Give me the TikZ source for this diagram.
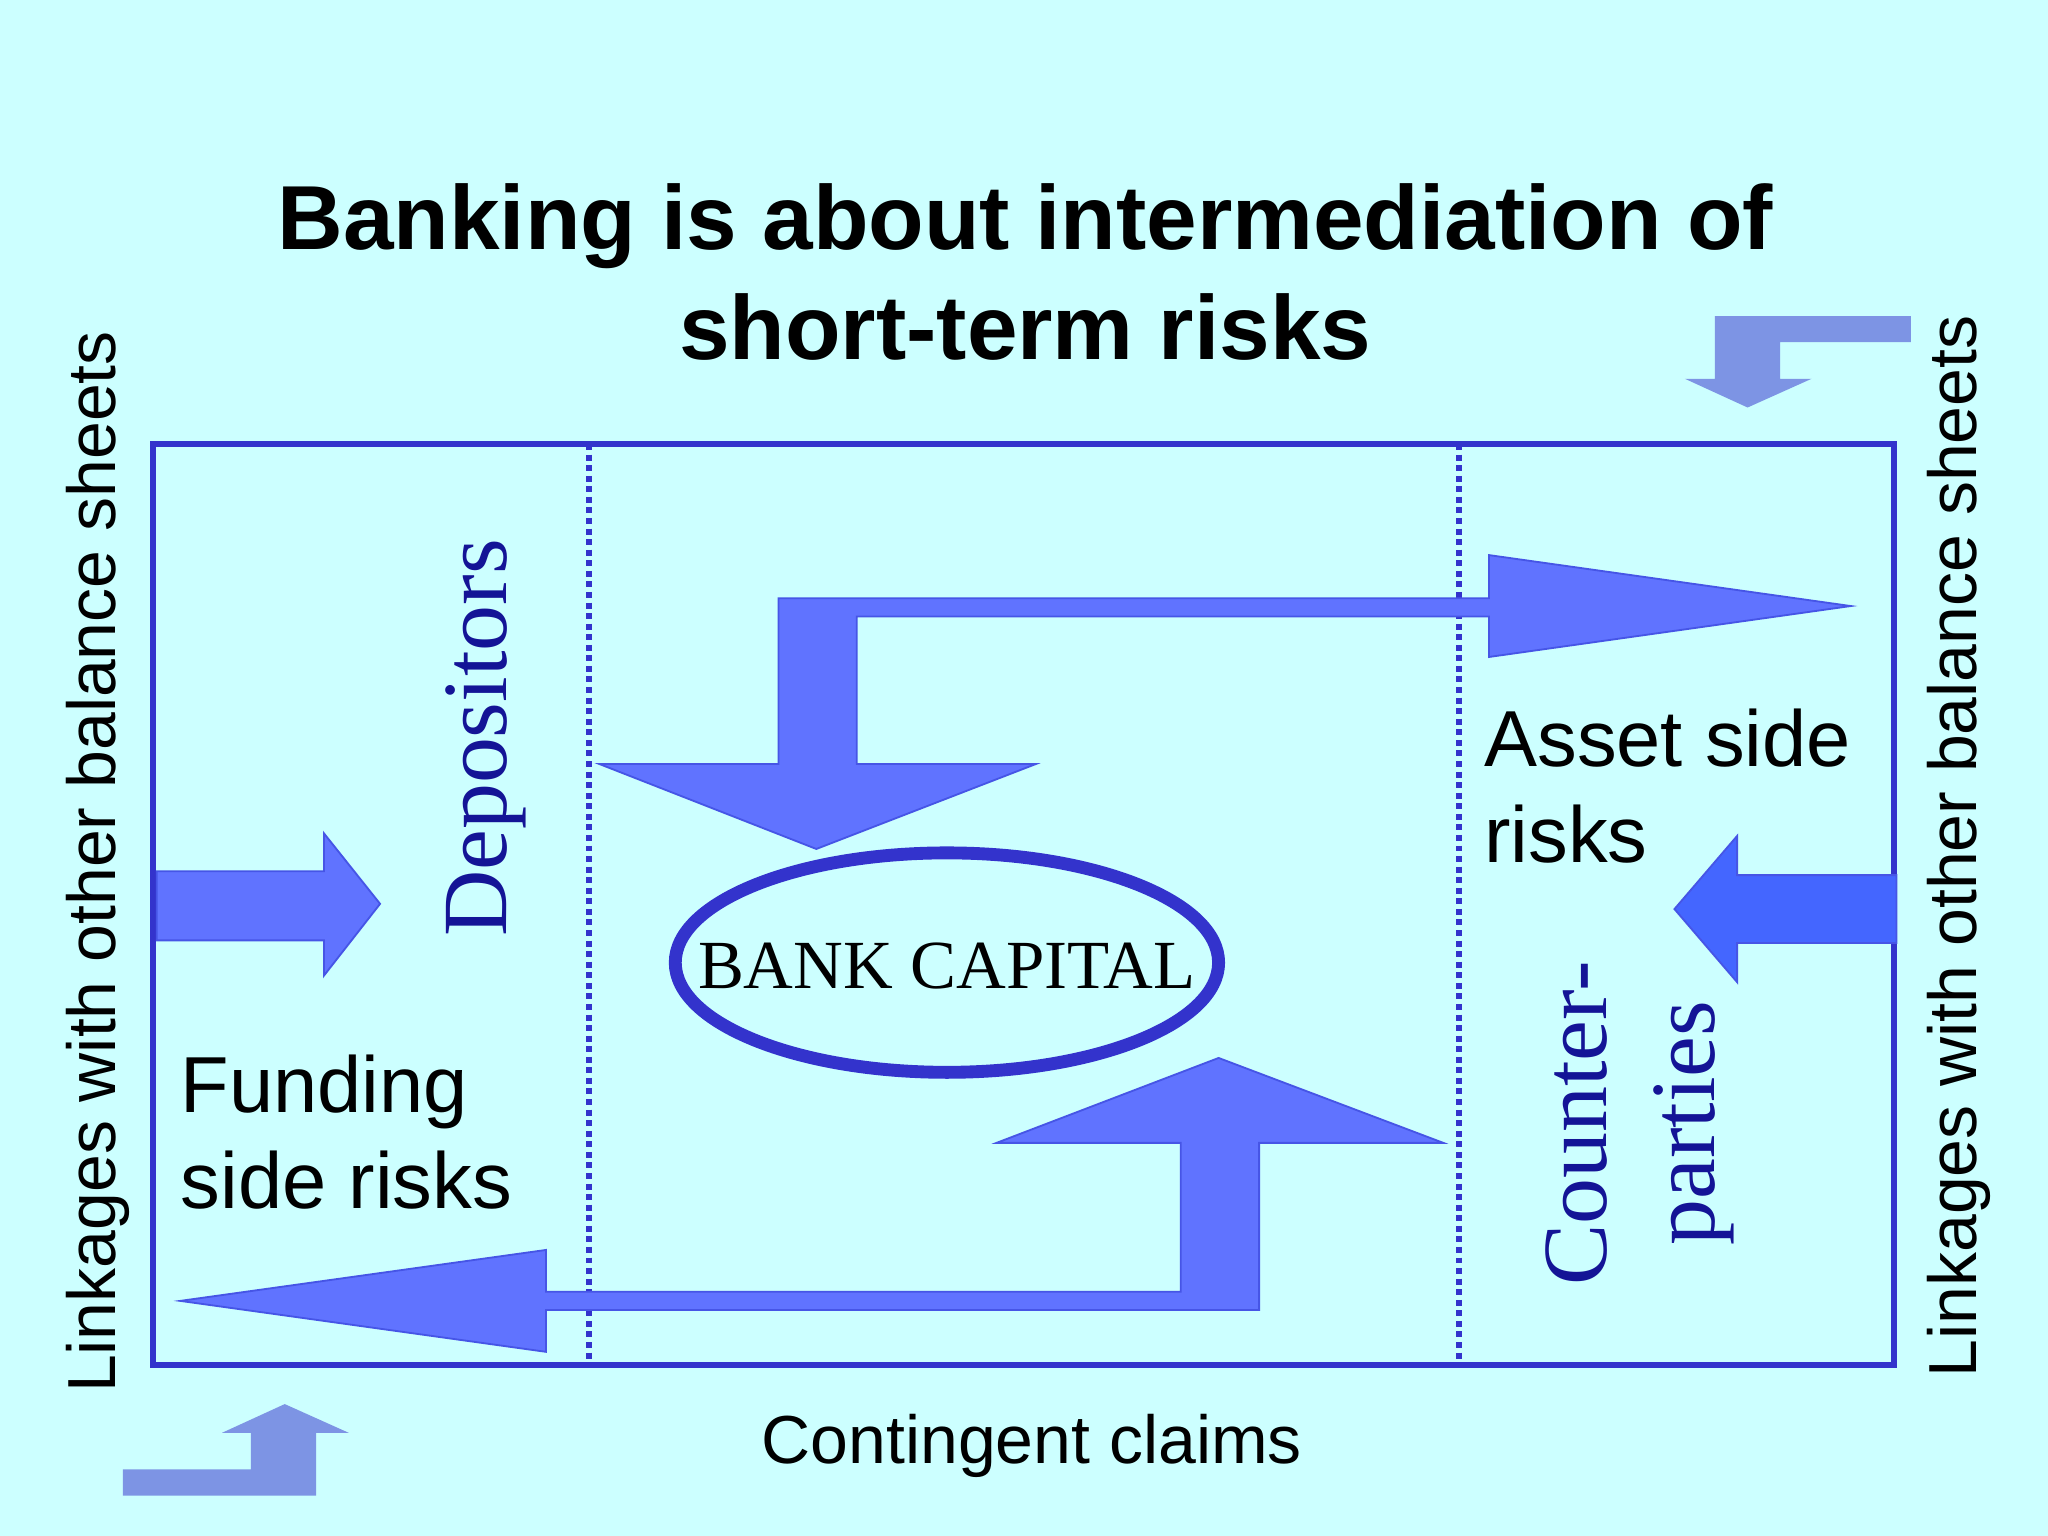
\documentclass[tikz,border=0pt]{standalone}
\usepackage{fontspec}
\setmainfont{Liberation Sans}
\newfontfamily\serifbody{Liberation Serif}
\definecolor{bgc}{RGB}{204,255,255}
\definecolor{framec}{RGB}{51,51,204}
\definecolor{arrfill}{RGB}{96,115,255}
\definecolor{arrdraw}{RGB}{70,85,230}
\definecolor{arrbright}{RGB}{68,102,255}
\definecolor{lightarr}{RGB}{125,148,228}
\definecolor{navyc}{RGB}{20,20,150}
\begin{document}
\begin{tikzpicture}[x=0.01cm,y=-0.01cm,
  bigarrow/.style={fill=arrfill, draw=arrdraw, line width=0.4pt},
  lightarrow/.style={fill=lightarr},
  sidetxt/.style={font=\fontsize{14.8}{17}\selectfont, anchor=center},
  risk/.style={font=\fontsize{17.3}{21}\selectfont, align=left, anchor=north west},
  navy/.style={text=navyc, font=\serifbody\fontsize{20}{22}\selectfont}]
\fill[bgc] (0,0) rectangle (1568,1176);
\useasboundingbox (0,0) rectangle (1568,1176);
\node[font=\bfseries\fontsize{19.8}{24}\selectfont, align=center] (title) at (785,208) {Banking is about intermediation of\\short-term risks};
\draw[draw=framec, line width=1.4pt] (117,340) rectangle (1450,1045);
\draw[densely dotted, line width=1.3pt, draw=framec] (451,340) -- (451,1045);
\draw[densely dotted, line width=1.3pt, draw=framec] (1117,340) -- (1117,1045);
\draw[bigarrow] (596,458)--(1140,458)--(1140,425)--(1417,464)--(1140,503)--(1140,472)--(656,472)--(656,585)--(793,585)--(625,650)--(459,585)--(596,585)--cycle;
\draw[bigarrow] (964,1003)--(418,1003)--(418,1035)--(138,996)--(418,957)--(418,989)--(904,989)--(904,875)--(763,875)--(933,810)--(1105,875)--(964,875)--cycle;
\draw[bigarrow] (120,667)--(248,667)--(248,638)--(291,692)--(248,747)--(248,720)--(120,720)--cycle;
\draw[bigarrow, fill=arrbright] (1452,670)--(1330,670)--(1330,640)--(1282,696)--(1330,752)--(1330,722)--(1452,722)--cycle;
\fill[lightarrow] (1463,242)--(1463,262)--(1363,262)--(1363,290)--(1387,290)--(1338,312)--(1290,290)--(1313,290)--(1313,242)--cycle;
\fill[lightarrow] (94,1145)--(94,1125)--(192,1125)--(192,1097)--(170,1097)--(218,1075)--(267,1097)--(242,1097)--(242,1145)--cycle;
\draw[line width=2.8pt, draw=framec] (725,737) ellipse [x radius=208, y radius=84];
\node[font=\serifbody\fontsize{15}{17}\selectfont] (cap) at (725,740) {BANK CAPITAL};
\node[sidetxt, rotate=90] (linkl) at (75,660) {Linkages with other balance sheets};
\node[sidetxt, rotate=90] (linkr) at (1500,648) {Linkages with other balance sheets};
\node[navy, rotate=90] (dep) at (372,565) {Depositors};
\node[navy, rotate=90] (c1) at (1207,860) {Counter-};
\node[navy, rotate=90] (c2) at (1297,860) {parties};
\node[risk] (asset) at (1124,530) {Asset side\\risks};
\node[risk] (fund) at (126,795) {Funding\\side risks};
\node[font=\fontsize{14.8}{17}\selectfont] (cont) at (790,1107) {Contingent claims};
\end{tikzpicture}
\end{document}
